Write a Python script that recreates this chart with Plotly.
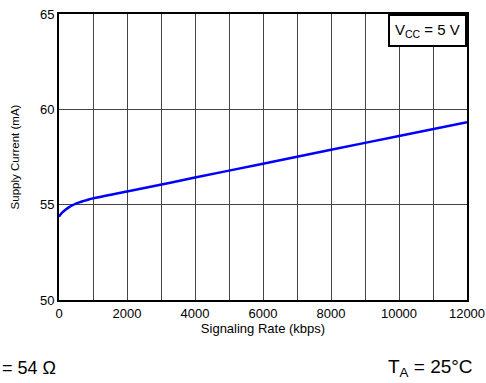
import plotly.graph_objects as go

rate_kbps = [0, 50, 100, 200, 300, 400, 500, 600, 700, 800, 1000, 2000, 4000, 6000, 8000, 10000, 12000]
supply_ma = [54.37, 54.5, 54.6, 54.75, 54.87, 54.97, 55.05, 55.12, 55.18, 55.23, 55.33, 55.69, 56.42, 57.15, 57.88, 58.6, 59.33]

x_ticks = [0, 2000, 4000, 6000, 8000, 10000, 12000]
y_ticks = [50, 55, 60, 65]

font = "Liberation Sans, Arial, sans-serif"
grid = "#444444"

fig = go.Figure()
fig.add_trace(go.Scatter(x=rate_kbps, y=supply_ma, mode="lines",
                         line=dict(color="#0000ff", width=2.5, shape="spline"),
                         showlegend=False))

fig.update_layout(
    width=486, height=383,
    margin=dict(l=59, r=19, t=14, b=83),
    paper_bgcolor="white", plot_bgcolor="white",
    font=dict(family=font, size=13, color="black"),
    xaxis=dict(range=[0, 12000], tickvals=x_ticks, tickformat="d",
               showgrid=True, gridcolor=grid, gridwidth=1,
               minor=dict(dtick=1000, showgrid=True, gridcolor=grid, gridwidth=1),
               showline=True, linecolor="black", linewidth=2, mirror=True,
               ticks="", zeroline=False, tickfont=dict(size=13), automargin=False,
               title=dict(text="Signaling Rate (kbps)", font=dict(size=13), standoff=0)),
    yaxis=dict(range=[50, 65], tickvals=y_ticks,
               showgrid=True, gridcolor=grid, gridwidth=1,
               showline=True, linecolor="black", linewidth=2, mirror=True,
               ticks="", zeroline=False, tickfont=dict(size=13), automargin=False,
               title=dict(text="Supply Current (mA)", font=dict(size=11.5), standoff=18)),
    annotations=[
        dict(text="V<sub>CC</sub> = 5 V", xref="paper", yref="paper", x=1, y=1,
             xanchor="right", yanchor="top", showarrow=False,
             font=dict(size=15), bgcolor="white", bordercolor="black",
             borderwidth=2, borderpad=5),
        dict(text="= 54 Ω", xref="paper", yref="paper", x=-59/408, y=-68/286,
             xanchor="left", yanchor="middle", showarrow=False,
             font=dict(size=18)),
        dict(text="T<sub>A</sub> = 25°C", xref="paper", yref="paper", x=1.02, y=-68/286,
             xanchor="right", yanchor="middle", showarrow=False,
             font=dict(size=19)),
    ],
)

fig.write_html("out.html", config={"displayModeBar": False},
               post_script="document.body.style.margin='0';")
